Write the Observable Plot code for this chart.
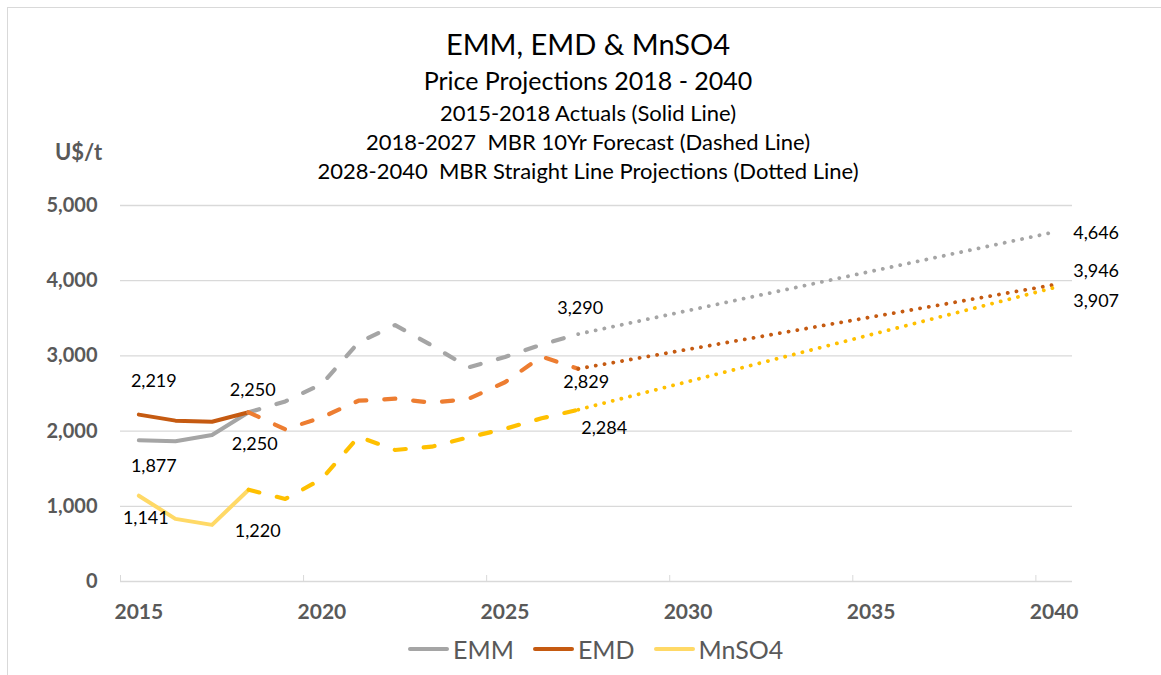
<!DOCTYPE html>
<html><head><meta charset="utf-8">
<script src="https://cdn.jsdelivr.net/npm/d3@7"></script>
<script src="https://cdn.jsdelivr.net/npm/@observablehq/plot@0.6"></script>
<style>
body{margin:0;background:#fff;font-family:Lato, "Open Sans", sans-serif;}
#wrap{position:relative;width:1161px;height:675px;overflow:hidden;background:#fff;}
#frame{position:absolute;left:7px;top:7px;width:1170px;height:690px;border-left:1.5px solid #d9d9d9;border-top:1.5px solid #d9d9d9;box-sizing:border-box;}
#chart{position:absolute;left:0;top:0;}
.t{position:absolute;left:0;width:1176px;text-align:center;color:#000;white-space:nowrap;}
#unit{position:absolute;left:55px;top:138px;font-size:22px;font-weight:bold;color:#595959;}
#legend{position:absolute;left:408px;top:635px;height:28px;display:flex;align-items:center;color:#595959;font-size:25px;}
#legend .sw{width:41px;height:4px;margin-right:4px;border-radius:2px;}
#legend .lb{margin-right:19px;}
</style>
</head><body>
<div id="wrap">
  <div id="frame"></div>
  <div id="chart"></div>
  <div class="t" style="top:26px;font-size:29px;line-height:36px;">EMM, EMD &amp; MnSO4</div>
  <div class="t" style="top:65px;font-size:25px;line-height:30px;">Price Projections 2018 - 2040</div>
  <div class="t" style="top:100px;font-size:22px;line-height:26px;">2015-2018 Actuals (Solid Line)</div>
  <div class="t" style="top:129px;font-size:22px;line-height:26px;">2018-2027&nbsp; MBR 10Yr Forecast (Dashed Line)</div>
  <div class="t" style="top:158px;font-size:22px;line-height:26px;">2028-2040&nbsp; MBR Straight Line Projections (Dotted Line)</div>
  <div id="unit">U$/t</div>
  <div id="legend"></div>
</div>
<script>
// ---- data ----
const series = ["EMM", "EMD", "MnSO4"];
const actualYears = [2015, 2016, 2017, 2018];
const forecastYears = [2018, 2019, 2020, 2021, 2022, 2023, 2024, 2025, 2026, 2027];
const projectionYears = [2027, 2040];

const emmActual = [1877, 1865, 1949, 2250];
const emmForecast = [2250, 2395, 2626, 3179, 3410, 3140, 2847, 2985, 3150, 3290];
const emmProjection = [3290, 4646];

const emdActual = [2219, 2139, 2125, 2250];
const emdForecast = [2250, 2023, 2183, 2404, 2431, 2378, 2427, 2650, 2990, 2829];
const emdProjection = [2829, 3946];

const mnActual = [1141, 833, 753, 1220];
const mnForecast = [1220, 1098, 1364, 1926, 1749, 1793, 1917, 2030, 2170, 2284];
const mnProjection = [2284, 3907];

const xTickYears = [2015, 2020, 2025, 2030, 2035, 2040];
const yTicks = [0, 1000, 2000, 3000, 4000, 5000];

// ---- build table ----
const valuesBy = {
  EMM: {actual: emmActual, forecast: emmForecast, projection: emmProjection},
  EMD: {actual: emdActual, forecast: emdForecast, projection: emdProjection},
  MnSO4: {actual: mnActual, forecast: mnForecast, projection: mnProjection}
};
const yearsBy = {actual: actualYears, forecast: forecastYears, projection: projectionYears};
const rows = [];
for (const s of series) for (const ph of ["actual", "forecast", "projection"])
  yearsBy[ph].forEach((yr, i) => rows.push({series: s, phase: ph, key: s + "-" + ph, year: yr, value: valuesBy[s][ph][i]}));

const colors = {
  "EMM-actual": "#a5a5a5", "EMM-forecast": "#a5a5a5", "EMM-projection": "#a5a5a5",
  "EMD-actual": "#c55a11", "EMD-forecast": "#ed7d31", "EMD-projection": "#c55a11",
  "MnSO4-actual": "#ffd966", "MnSO4-forecast": "#ffc000", "MnSO4-projection": "#ffc000"
};
const legendColors = {EMM: "#a5a5a5", EMD: "#c55a11", MnSO4: "#ffd966"};

const fmt = d3.format(",");
function val(s, year) {
  const r = rows.find(d => d.series === s && d.year === year);
  return r.value;
}
function label(s, year, dx, dy, anchor = "middle") {
  return Plot.text([{year, value: val(s, year)}], {
    x: "year", y: "value", text: d => fmt(d.value), dx, dy, textAnchor: anchor,
    fontSize: 18, fill: "#000", fontFamily: "Lato"
  });
}

const boundaries = xTickYears.map(y => y - 0.5);

const chart = Plot.plot({
  width: 1161, height: 675,
  marginLeft: 120, marginRight: 89, marginTop: 205, marginBottom: 94,
  style: {fontFamily: "Lato", background: "transparent", overflow: "visible"},
  x: {domain: [2014.5, 2040.5]},
  y: {domain: [0, 5000]},
  marks: [
    Plot.gridY(yTicks.filter(d => d > 0), {stroke: "#d9d9d9", strokeOpacity: 1, strokeWidth: 1.3}),
    Plot.ruleY([0], {stroke: "#d9d9d9", strokeWidth: 1.5}),
    Plot.axisX({ticks: boundaries, tickSize: 6, tickFormat: () => "", dy: -6, stroke: "#d9d9d9", label: null}),
    Plot.axisX({ticks: xTickYears, tickSize: 0, tickPadding: 23, tickFormat: d => String(d), fontSize: 21, fontWeight: "bold", fill: "#595959", label: null}),
    Plot.axisY({ticks: yTicks, tickSize: 0, tickPadding: 23, tickFormat: fmt, fontSize: 20, fontWeight: "bold", fill: "#595959", label: null}),
    Plot.line(rows.filter(d => d.phase === "actual"), {x: "year", y: "value", z: "key", stroke: d => colors[d.key], strokeWidth: 4, strokeLinecap: "round"}),
    Plot.line(rows.filter(d => d.phase === "forecast"), {x: "year", y: "value", z: "key", stroke: d => colors[d.key], strokeWidth: 4.2, strokeDasharray: "11,18", strokeLinecap: "round"}),
    Plot.line(rows.filter(d => d.phase === "projection"), {x: "year", y: "value", z: "key", stroke: d => colors[d.key], strokeWidth: 3.8, strokeDasharray: "0.1,8.8", strokeLinecap: "round"}),
    label("EMD", 2015, 15, -33),
    label("EMM", 2015, 15, 26),
    label("MnSO4", 2015, 7, 23),
    label("EMD", 2018, 4, -22),
    label("EMM", 2018, 6, 32),
    label("MnSO4", 2018, 9, 41),
    label("EMM", 2027, 2, -26),
    label("EMD", 2027, 8, 13),
    label("MnSO4", 2027, 26, 18),
    label("EMM", 2040, 19, 1, "start"),
    label("EMD", 2040, 19, -14, "start"),
    label("MnSO4", 2040, 19, 14, "start")
  ]
});
document.getElementById("chart").appendChild(chart);

const lg = document.getElementById("legend");
for (const s of series) {
  const sw = document.createElement("div"); sw.className = "sw"; sw.style.background = legendColors[s];
  const lb = document.createElement("div"); lb.className = "lb"; lb.textContent = s;
  lg.appendChild(sw); lg.appendChild(lb);
}
</script>
</body></html>
